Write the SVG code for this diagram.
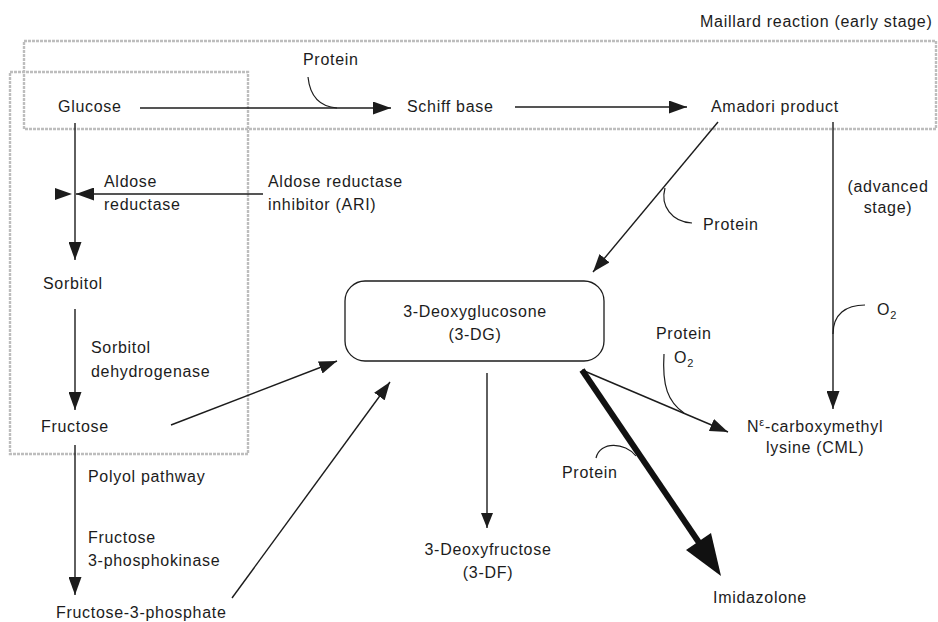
<svg xmlns="http://www.w3.org/2000/svg" width="938" height="622" viewBox="0 0 938 622">
<style>
text{font-family:"Liberation Sans",Arial,sans-serif;font-size:16px;letter-spacing:0.7px;fill:#1c1c1c}
.c{text-anchor:middle}
.ln{stroke:#1c1c1c;stroke-width:1.4;fill:none}
.cv{stroke:#1c1c1c;stroke-width:1.2;fill:none}
.region{fill:none;stroke:#bdbdbd;stroke-width:2.4;stroke-dasharray:3 1}
.box{fill:#fff;stroke:#1c1c1c;stroke-width:1.3}
</style>
<defs>
<marker id="ah" markerUnits="userSpaceOnUse" markerWidth="19" markerHeight="13" refX="18" refY="6.5" orient="auto">
<path d="M0,0 L18,6.5 L0,13 z" fill="#1c1c1c"/>
</marker>
<marker id="ahs" markerUnits="userSpaceOnUse" markerWidth="16" markerHeight="12" refX="15" refY="6" orient="auto">
<path d="M0,0 L15,6 L0,12 z" fill="#1c1c1c"/>
</marker>
</defs>
<rect width="938" height="622" fill="#fff"/>

<g id="regions">
<rect class="region" x="24" y="41" width="912" height="88"/>
<rect class="region" x="10" y="72" width="238" height="382"/>
<text x="700" y="27">Maillard reaction (early stage)</text>
<text x="88" y="482">Polyol pathway</text>
</g>

<g id="connectors">
<line class="ln" x1="140" y1="108" x2="391" y2="108" marker-end="url(#ah)"/>
<path class="cv" d="M308,77 Q311,106 337,108"/>
<line class="ln" x1="515" y1="107" x2="687" y2="107" marker-end="url(#ah)"/>
<line class="ln" x1="718" y1="122" x2="593" y2="272" marker-end="url(#ah)"/>
<path class="cv" d="M665,188 C660,206 672,222 692,223"/>
<line class="ln" x1="833" y1="122" x2="833" y2="409" marker-end="url(#ah)"/>
<path class="cv" d="M833,334 C833,314 846,305 865,305"/>
<line class="ln" x1="75" y1="123" x2="75" y2="260" marker-end="url(#ah)"/>
<line class="ln" x1="263" y1="194" x2="76" y2="194" marker-end="url(#ah)"/>
<path d="M55,188 L72,194 L55,200 z" fill="#1c1c1c"/>
<line class="ln" x1="75" y1="309" x2="75" y2="410" marker-end="url(#ah)"/>
<line class="ln" x1="75" y1="445" x2="75" y2="595" marker-end="url(#ah)"/>
<line class="ln" x1="171" y1="425" x2="337" y2="361" marker-end="url(#ah)"/>
<line class="ln" x1="232" y1="598" x2="390" y2="382" marker-end="url(#ah)"/>
<line class="ln" x1="487" y1="373" x2="487" y2="528" marker-end="url(#ahs)"/>
<line class="ln" x1="582" y1="370" x2="728" y2="432" marker-end="url(#ah)"/>
<path class="cv" d="M664,354 C662,386 668,402 684,413"/>
<line x1="582" y1="370" x2="702" y2="547" stroke="#111" stroke-width="6"/>
<path d="M721,576 L711,533 L686,550 z" fill="#111"/>
<path class="cv" d="M596,458 C600,441 625,442 636,456"/>
</g>

<g id="glucose"><text x="58" y="112">Glucose</text></g>
<g id="schiff-base"><text x="407" y="112">Schiff base</text></g>
<g id="amadori"><text x="711" y="112">Amadori product</text></g>
<g id="sorbitol"><text x="43" y="289">Sorbitol</text></g>
<g id="fructose"><text x="41" y="432">Fructose</text></g>
<g id="fructose-3-phosphate"><text x="56" y="618">Fructose-3-phosphate</text></g>
<g id="ari"><text x="268" y="187">Aldose reductase</text><text x="268" y="210">inhibitor (ARI)</text></g>
<g id="dg3">
<rect class="box" x="345" y="281" width="259" height="80" rx="20" ry="20"/>
<text class="c" x="475" y="317">3-Deoxyglucosone</text>
<text class="c" x="475" y="340">(3-DG)</text>
</g>
<g id="df3"><text class="c" x="488" y="555">3-Deoxyfructose</text><text class="c" x="488" y="578">(3-DF)</text></g>
<g id="cml"><text x="747" y="432">N<tspan font-size="11" dy="-6">ε</tspan><tspan dy="6">-carboxymethyl</tspan></text><text x="766" y="453">lysine (CML)</text></g>
<g id="imidazolone"><text x="713" y="603">Imidazolone</text></g>

<g id="labels">
<text x="303" y="65">Protein</text>
<text x="104" y="187">Aldose</text>
<text x="104" y="210">reductase</text>
<text x="703" y="230">Protein</text>
<text class="c" x="888" y="192">(advanced</text>
<text class="c" x="888" y="213">stage)</text>
<text x="877" y="315">O<tspan font-size="11" dy="4">2</tspan></text>
<text x="656" y="339">Protein</text>
<text x="674" y="363">O<tspan font-size="11" dy="4">2</tspan></text>
<text x="91" y="353">Sorbitol</text>
<text x="91" y="377">dehydrogenase</text>
<text x="88" y="543">Fructose</text>
<text x="88" y="566">3-phosphokinase</text>
<text x="562" y="478">Protein</text>
</g>
</svg>
